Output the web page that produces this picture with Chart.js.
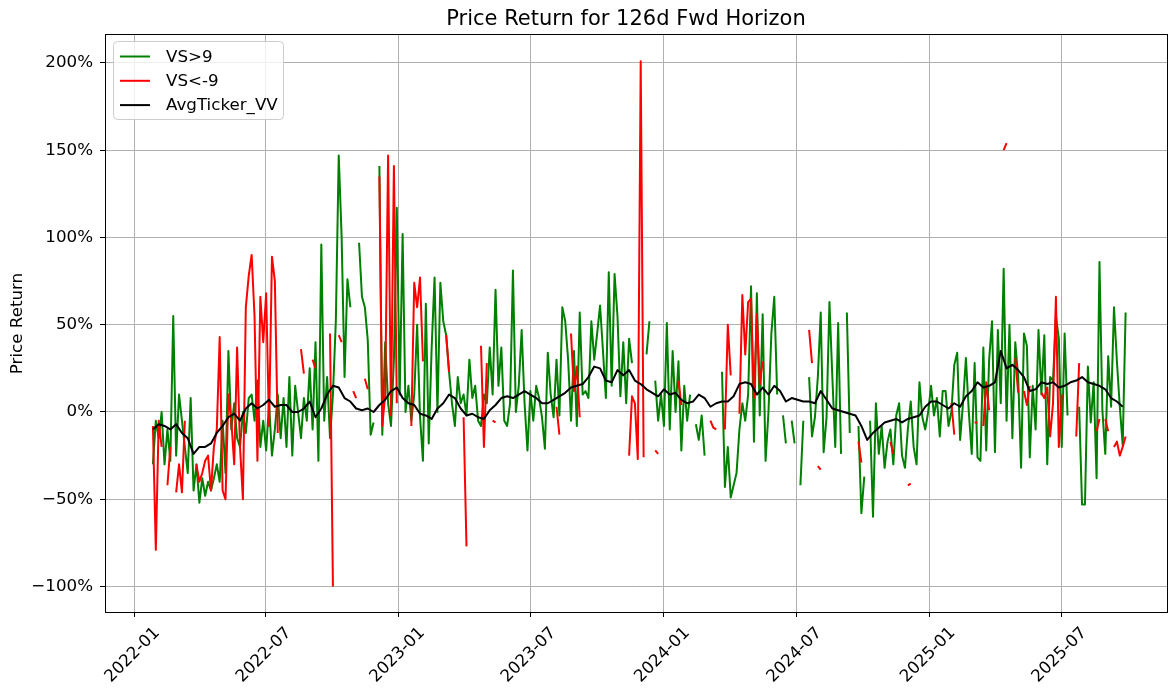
<!DOCTYPE html>
<html>
<head>
<meta charset="utf-8">
<title>Price Return for 126d Fwd Horizon</title>
<script src="https://cdn.jsdelivr.net/npm/chart.js@4.4.0/dist/chart.umd.min.js"></script>
<style>
  html, body { margin: 0; padding: 0; background: #ffffff; }
  #wrap { width: 1169px; height: 688px; }
</style>
</head>
<body>
<div id="wrap"><canvas id="chart" width="1169" height="688"></canvas></div>
<script>
// gap marker for days where a series has no signal
const _ = null;

// sampling grid of the signal series
const startDate = '2022-01-27';
const stepDays = 4;

// forward return (%) on days with VS > 9
const vsHigh = [
  -30, -5, -15, 0, -30, -10, -28, 55, -25, 10,
  -5, -20, -35, 8, -45, -30, -52, -38, -48, -40,
  -45, -38, -30, -40, -5, -35, 35, -10, 5, -15,
  -20, 0, -12, 8, 10, -5, 18, -20, -5, -22,
  5, -25, -10, 10, -15, 8, -20, 20, -25, 15,
  0, -15, 8, -5, 25, -10, 40, -28, 96, -5,
  20, -15, 10, 52, 147, 100, 20, 76, 60, _,
  _, 97, 66, 60, 41, -13, -6, _, 141, -13,
  40, 5, -8, 30, 117, 10, 102, 0, 15, -5,
  10, 50, -3, -28, 62, -18, 37, 77, 0, 74,
  52, 44, 23, 5, -8, 20, 5, 10, -2, 30,
  8, 15, -5, -8, 10, 5, 37, 10, 70, 15,
  37, -5, -8, 5, 81, 0, 15, 47, 5, -22,
  12, -5, 15, 8, -3, -21, 34, 10, -3, 30,
  -2, 60, 52, 30, -5, 35, -8, 57, 10, 12,
  8, 52, 30, 45, 61, 35, 8, 80, 15, 79,
  55, 9, 40, 5, 42, 28, _, _, _, _,
  33, 52, _, 18, -5, 10, -8, 51, -10, 35,
  0, 29, -22, 15, -5, 10, _, -7, -16, -2,
  -25, _, _, _, _, _, 23, -43, -20, -49,
  -42, -35, -10, 5, -5, 10, 72, -17, 68, -2,
  56, -28, 0, 45, 66, 10, _, -2, -18, _,
  -5, -18, _, -42, -5, _, 20, -14, -3, 20,
  57, -23, -3, 63, 20, -20, 51, -24, _, 57,
  -12, _, _, -8, -58, -37, _, -5, -60, 5,
  -24, -8, -32, -17, -10, -30, -2, 5, -25, -32,
  -10, 6, -20, -30, 17, -3, -10, 0, 15, -2,
  8, -14, 12, 12, -8, 0, 27, 34, -16, 5,
  31, 0, -24, 28, -26, -28, 37, -22, 30, 52,
  -23, 47, 5, 82, -5, 50, -15, 40, 20, -32,
  45, 38, -26, 15, -10, 47, 10, 44, -30, 20,
  18, 55, 42, -20, 45, -2, _, _, _, 3,
  -53, -53, 26, -6, 17, -38, 86, 1, -24, 32,
  3, 60, 29, 3, -19, 57
];

// forward return (%) on days with VS < -9
const vsLow = [
  -8, -79, -5, -20, _, -42, -20, _, -46, -30,
  -46, -5, _, _, _, -30, -40, -35, -28, -25,
  -45, -20, -10, 43, -45, -50, 10, -5, -30, 37,
  -20, -50, 60, 78, 90, 55, -28, 66, 40, 68,
  -8, 89, 75, -12, _, _, _, _, _, _,
  _, 36, 22, _, _, 30, 25, _, _, _,
  _, 45, -100, _, 44, 40, _, _, _, 12,
  8, _, _, 19, 13, _, _, _, 135, -8,
  10, 147, -2, 141, 5, _, _, _, _, -8,
  74, 60, 77, 29, _, _, _, _, _, _,
  _, 44, 23, _, _, _, _, -3, -77, _,
  _, _, _, 38, -20, 28, _, -5, -6, _,
  _, _, _, _, _, _, _, _, _, _,
  _, _, _, _, _, _, _, _, _, 3,
  -13, _, _, _, 45, 12, 26, -3, _, _,
  _, _, _, _, _, _, _, _, _, _,
  _, _, _, _, -25, 9, 5, -27, 201, -26,
  _, _, _, -22, -24, _, _, _, _, _,
  _, 18, 4, _, _, _, _, _, _, _,
  _, _, -5, -9, -10, _, _, -10, 50, 21,
  _, _, -1, 67, 33, 63, 65, 8, 56, 16,
  29, _, _, _, _, _, _, _, _, _,
  _, _, _, _, _, _, 47, 28, _, -31,
  -33, _, _, _, _, _, _, _, _, _,
  _, _, _, -17, -29, _, _, _, _, _,
  _, _, _, _, -17, -24, _, _, _, _,
  -42, -41, _, _, _, _, _, _, _, _,
  _, _, _, _, _, 5, -13, _, _, _,
  _, _, _, -6, -6, _, -8, 17, 1, _,
  _, _, _, 150, 154, _, _, 31, 11, _,
  12, 4, 15, _, _, _, 11, 8, 14, -14,
  5, 66, -20, 10, _, _, _, _, -14, 28,
  _, _, _, _, _, -11, -4, _, -4, -11,
  _, -20, -17, -25, -20, -14
];

// average ticker return (%), sampled every 8 days from the same start
const avgTicker = [
  -10, -7, -8, -10, -7, -12, -15, -24, -20, -20,
  -18, -12, -8, -3, -1, -5, 2, 5, 2, 4,
  7, 3, 4, 4, 0, 0, 2, 6, -3, 2,
  10, 15, 14, 8, 6, 2, 1, 2, 0, 4,
  7, 12, 14, 8, 5, 4, -1, -2, -4, 2,
  5, 10, 8, 2, -2, -1, -3, -4, 1, 4,
  8, 9, 8, 10, 12, 10, 8, 5, 5, 7,
  9, 11, 14, 15, 16, 20, 26, 25, 18, 17,
  24, 21, 24, 18, 16, 13, 11, 9, 13, 10,
  11, 7, 5, 6, 10, 8, 3, 5, 6, 6,
  9, 16, 17, 16, 10, 14, 10, 15, 12, 6,
  8, 7, 6, 6, 5, 12, 7, 2, 1, 0,
  -1, -2, -8, -16, -12, -9, -6, -5, -4, -6,
  -4, -3, -2, 3, 6, 6, 4, 2, 5, 3,
  9, 12, 17, 14, 15, 17, 35, 25, 27, 24,
  20, 12, 13, 17, 16, 17, 14, 15, 17, 18,
  20, 17, 16, 15, 13, 8, 6, 3
];

const xTickLabels = ['2022-01', '2022-07', '2023-01', '2023-07', '2024-01', '2024-07', '2025-01', '2025-07'];
const yTickValues = [-100, -50, 0, 50, 100, 150, 200];

const seriesNames = ['VS>9', 'VS<-9', 'AvgTicker_VV'];
const seriesColors = ['#008000', '#ff0000', '#000000'];

const FONT = "'DejaVu Sans', 'Liberation Sans', sans-serif";
const LABEL_SIZE = 16.7;
const TITLE_SIZE = 21;

// days since 2022-01-01
function dayOf(s) {
  const p = s.split('-').map(Number);
  return (Date.UTC(p[0], p[1] - 1, p[2] || 1) - Date.UTC(2022, 0, 1)) / 86400000;
}

const t0 = dayOf(startDate);
function toPoints(arr, step) {
  return arr.map((v, i) => ({ x: t0 + i * step, y: v }));
}

function fmtPct(v) {
  return (v < 0 ? '\u2212' + (-v) : String(v)) + '%';
}

// frame, rotated date labels, title, axis label and legend box
const decor = {
  id: 'decor',
  afterDraw(chart) {
    const ctx = chart.ctx;
    const a = chart.chartArea;
    ctx.save();

    ctx.strokeStyle = '#000';
    ctx.lineWidth = 1;
    ctx.strokeRect(a.left + 0.5, a.top - 0.5, a.right - a.left - 1, a.bottom - a.top + 1);

    ctx.fillStyle = '#000';
    ctx.font = LABEL_SIZE + 'px ' + FONT;
    ctx.textAlign = 'center';
    ctx.textBaseline = 'middle';
    const xs = chart.scales.x;
    xTickLabels.forEach(l => {
      const px = xs.getPixelForValue(dayOf(l));
      ctx.save();
      ctx.translate(px - 1.5, 655);
      ctx.rotate(-Math.PI / 4);
      ctx.fillText(l, 0, 0);
      ctx.restore();
    });

    ctx.save();
    ctx.translate(18, (a.top + a.bottom) / 2);
    ctx.rotate(-Math.PI / 2);
    ctx.fillText('Price Return', 0, 0);
    ctx.restore();

    ctx.font = TITLE_SIZE + 'px ' + FONT;
    ctx.textBaseline = 'alphabetic';
    ctx.fillText('Price Return for 126d Fwd Horizon', 626, 25);

    // legend
    const bx = 113.5, by = 41.5, bw = 170, bh = 78, r = 4;
    ctx.beginPath();
    ctx.moveTo(bx + r, by);
    ctx.arcTo(bx + bw, by, bx + bw, by + bh, r);
    ctx.arcTo(bx + bw, by + bh, bx, by + bh, r);
    ctx.arcTo(bx, by + bh, bx, by, r);
    ctx.arcTo(bx, by, bx + bw, by, r);
    ctx.closePath();
    ctx.fillStyle = 'rgba(255,255,255,0.8)';
    ctx.fill();
    ctx.strokeStyle = '#cccccc';
    ctx.lineWidth = 1;
    ctx.stroke();

    ctx.font = LABEL_SIZE + 'px ' + FONT;
    ctx.textAlign = 'left';
    ctx.textBaseline = 'middle';
    seriesNames.forEach((name, k) => {
      const yy = 56.5 + k * 24.3;
      ctx.strokeStyle = seriesColors[k];
      ctx.lineWidth = 2;
      ctx.beginPath();
      ctx.moveTo(120, yy);
      ctx.lineTo(150, yy);
      ctx.stroke();
      ctx.fillStyle = '#000';
      ctx.fillText(name, 166, yy + 1);
    });

    ctx.restore();
  }
};

const gridOpts = {
  color: '#b0b0b0',
  lineWidth: 1,
  drawTicks: true,
  tickLength: 5,
  tickColor: '#000',
  tickWidth: 1
};

const lineStyle = {
  borderWidth: 2,
  pointRadius: 0,
  pointHoverRadius: 0,
  tension: 0,
  spanGaps: false,
  borderJoinStyle: 'round',
  fill: false
};

new Chart(document.getElementById('chart').getContext('2d'), {
  type: 'line',
  data: {
    datasets: [
      Object.assign({ label: seriesNames[0], data: toPoints(vsHigh, stepDays), borderColor: seriesColors[0], order: 3 }, lineStyle),
      Object.assign({ label: seriesNames[1], data: toPoints(vsLow, stepDays), borderColor: seriesColors[1], order: 2 }, lineStyle),
      Object.assign({ label: seriesNames[2], data: toPoints(avgTicker, stepDays * 2), borderColor: seriesColors[2], order: 1 }, lineStyle)
    ]
  },
  options: {
    responsive: false,
    animation: false,
    devicePixelRatio: 1,
    layout: { padding: { top: 35, right: 1, left: 0, bottom: 0 } },
    plugins: {
      legend: { display: false },
      title: { display: false },
      tooltip: { enabled: false }
    },
    events: [],
    scales: {
      x: {
        type: 'linear',
        min: -40,
        max: 1424.4,
        afterBuildTicks: s => { s.ticks = xTickLabels.map(l => ({ value: dayOf(l) })); },
        afterFit: s => { s.height = 76; },
        grid: gridOpts,
        border: { display: false },
        ticks: { display: false }
      },
      y: {
        type: 'linear',
        min: -114.6,
        max: 216,
        afterBuildTicks: s => { s.ticks = yTickValues.map(v => ({ value: v })); },
        afterFit: s => { s.width = 105; },
        grid: gridOpts,
        border: { display: false },
        ticks: {
          color: '#000',
          padding: 7,
          font: { family: FONT, size: LABEL_SIZE },
          callback: v => fmtPct(v)
        }
      }
    }
  },
  plugins: [decor]
});
</script>
</body>
</html>
